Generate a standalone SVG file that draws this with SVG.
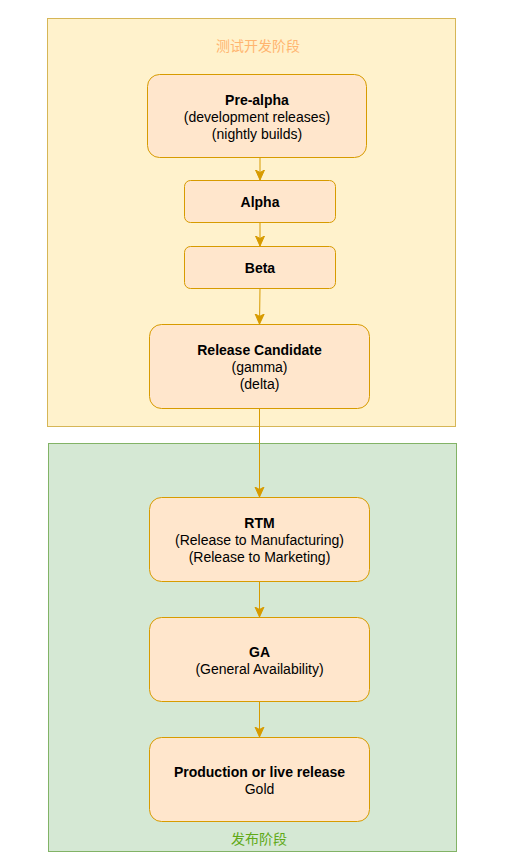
<svg xmlns="http://www.w3.org/2000/svg" width="505" height="865" viewBox="0 0 505 865">
  <style>
    .node rect { fill: #ffe6cc; stroke: #d79b00; stroke-width: 1; }
    .t { font-family: "Liberation Sans", Arial, sans-serif; font-size: 14px; fill: #000; text-anchor: middle; }
    .b { font-weight: bold; }
    .edge { stroke: #d79b00; stroke-width: 1; fill: none; marker-end: url(#arrow); }
    .cn { font-family: "Liberation Sans", "Noto Sans CJK SC", sans-serif; font-size: 14px; text-anchor: middle; }
  </style>
  <defs>
    <marker id="arrow" markerUnits="userSpaceOnUse" markerWidth="12" markerHeight="12" refX="10" refY="5" orient="auto" viewBox="0 0 12 12">
      <path d="M0,0.5 L10,5 L0,9.5 L2.5,5 Z" fill="#d79b00" stroke="#d79b00" stroke-width="1"/>
    </marker>
  </defs>
  <rect width="505" height="865" fill="#ffffff"/>

  <g id="group-test">
    <rect x="47.5" y="18.5" width="408" height="408" fill="#fff2cc" stroke="#d6b656"/>
    <text class="cn" x="258" y="51" fill="#ffb570">测试开发阶段</text>
  </g>
  <g id="group-release">
    <rect x="48.5" y="443.5" width="408" height="408" fill="#d5e8d4" stroke="#82b366"/>
    <text class="cn" x="259" y="844" fill="#60a917">发布阶段</text>
  </g>

  <g id="connectors">
    <path class="edge" d="M260,158 L260,180"/>
    <path class="edge" d="M260,222 L260,246"/>
    <path class="edge" d="M260,288 L259.5,324"/>
    <path class="edge" d="M259.5,408 L259.5,497"/>
    <path class="edge" d="M259.5,581 L259.5,617"/>
    <path class="edge" d="M259.5,701 L259.5,737"/>
  </g>

  <g id="pre-alpha" class="node">
    <rect x="147.5" y="74.5" width="219" height="83" rx="12" ry="12"/>
    <text class="t b" x="257" y="105">Pre-alpha</text>
    <text class="t" x="257" y="122">(development releases)</text>
    <text class="t" x="257" y="139">(nightly builds)</text>
  </g>
  <g id="alpha" class="node">
    <rect x="184.5" y="180.5" width="151" height="42" rx="6" ry="6"/>
    <text class="t b" x="260" y="207">Alpha</text>
  </g>
  <g id="beta" class="node">
    <rect x="184.5" y="246.5" width="151" height="42" rx="6" ry="6"/>
    <text class="t b" x="260" y="273">Beta</text>
  </g>
  <g id="release-candidate" class="node">
    <rect x="149.5" y="324.5" width="220" height="84" rx="12" ry="12"/>
    <text class="t b" x="259.5" y="355">Release Candidate</text>
    <text class="t" x="259.5" y="372">(gamma)</text>
    <text class="t" x="259.5" y="389">(delta)</text>
  </g>
  <g id="rtm" class="node">
    <rect x="149.5" y="497.5" width="220" height="84" rx="12" ry="12"/>
    <text class="t b" x="259.5" y="528">RTM</text>
    <text class="t" x="259.5" y="545">(Release to Manufacturing)</text>
    <text class="t" x="259.5" y="562">(Release to Marketing)</text>
  </g>
  <g id="ga" class="node">
    <rect x="149.5" y="617.5" width="220" height="84" rx="12" ry="12"/>
    <text class="t b" x="259.5" y="657">GA</text>
    <text class="t" x="259.5" y="674">(General Availability)</text>
  </g>
  <g id="production" class="node">
    <rect x="149.5" y="737.5" width="220" height="84" rx="12" ry="12"/>
    <text class="t b" x="259.5" y="777">Production or live release</text>
    <text class="t" x="259.5" y="794">Gold</text>
  </g>
</svg>
